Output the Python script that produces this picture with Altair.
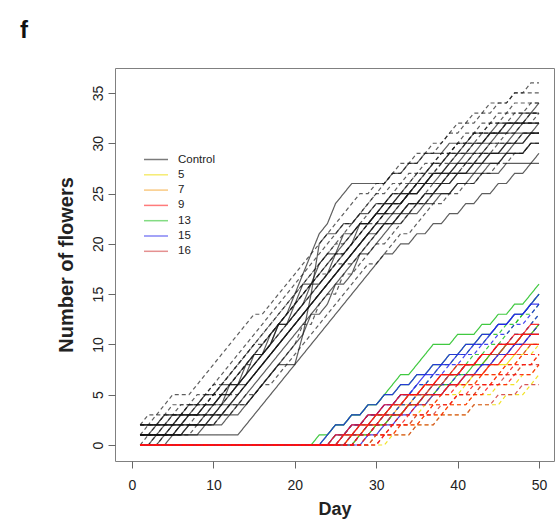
import altair as alt
import pandas as pd

# ---------------- data ----------------
days = list(range(1, 51))

groups = ["Control", "5", "7", "9", "13", "15", "16"]
group_colors = ["#111111", "#eedd00", "#f5a020", "#ff1010", "#1fc01f", "#2222ee", "#d03838"]

# Control plants: daily number of flowers (solid and dashed curves)
ctrl_01 = [1, 1, 1, 1, 1, 2, 2, 2, 3, 3,
           4, 5, 6, 7, 8, 9, 10, 12, 13, 15,
           17, 19, 21, 22, 24, 25, 26, 26, 26, 26,
           26, 27, 27, 28, 28, 29, 29, 29, 30, 30,
           30, 31, 31, 31, 32, 32, 32, 32, 33, 33]
ctrl_02 = [0, 0, 1, 1, 1, 1, 2, 2, 2, 2,
           3, 3, 4, 4, 5, 6, 7, 8, 8, 8,
           11, 15, 20, 21, 21, 22, 22, 23, 23, 24,
           24, 24, 25, 25, 26, 26, 27, 27, 27, 28,
           28, 28, 29, 29, 29, 30, 30, 30, 31, 31]
ctrl_03 = [1, 1, 1, 1, 1, 1, 1, 1, 1, 1,
           1, 1, 1, 2, 3, 4, 5, 6, 7, 8,
           9, 10, 11, 12, 13, 14, 15, 16, 17, 18,
           19, 19, 20, 20, 21, 21, 22, 22, 23, 23,
           24, 24, 25, 25, 26, 26, 27, 27, 28, 28]
ctrl_04 = [2, 2, 3, 4, 5, 5, 5, 6, 7, 8,
           9, 10, 11, 12, 13, 13, 14, 15, 16, 17,
           18, 19, 20, 21, 22, 23, 24, 25, 25, 26,
           26, 27, 27, 28, 28, 29, 29, 30, 31, 31,
           32, 32, 33, 33, 34, 34, 35, 35, 36, 36]
ctrl_05 = [1, 2, 2, 3, 3, 3, 4, 4, 5, 5,
           6, 7, 8, 9, 10, 11, 12, 13, 14, 15,
           16, 17, 18, 19, 20, 21, 22, 23, 24, 25,
           25, 26, 26, 27, 27, 28, 28, 29, 29, 30,
           30, 31, 31, 32, 32, 33, 33, 33, 34, 34]
ctrl_06 = [2, 2, 2, 2, 3, 3, 3, 3, 4, 4,
           5, 5, 6, 7, 8, 9, 10, 11, 12, 13,
           14, 16, 16, 17, 19, 19, 20, 22, 22, 23,
           23, 24, 24, 25, 25, 26, 27, 27, 28, 28,
           29, 29, 30, 30, 31, 31, 31, 32, 32, 32]
ctrl_07 = [0, 0, 1, 1, 1, 2, 2, 3, 3, 4,
           4, 5, 5, 6, 7, 8, 9, 10, 11, 12,
           13, 14, 15, 16, 17, 18, 18, 19, 20, 21,
           22, 22, 23, 24, 24, 25, 26, 26, 27, 27,
           28, 28, 29, 29, 30, 30, 30, 31, 31, 31]
ctrl_08 = [1, 1, 2, 2, 2, 3, 3, 3, 4, 4,
           5, 6, 6, 8, 9, 9, 11, 12, 12, 14,
           15, 16, 17, 18, 19, 20, 21, 22, 22, 23,
           24, 24, 25, 25, 26, 26, 27, 27, 28, 29,
           29, 30, 30, 31, 31, 32, 32, 33, 33, 34]
ctrl_09 = [0, 0, 0, 1, 1, 1, 1, 2, 2, 2,
           3, 3, 4, 4, 5, 6, 6, 7, 8, 9,
           10, 11, 12, 13, 14, 15, 16, 17, 18, 18,
           19, 20, 21, 21, 22, 23, 24, 24, 25, 25,
           26, 26, 27, 27, 28, 28, 29, 29, 30, 30]
ctrl_10 = [2, 2, 2, 3, 3, 3, 4, 4, 5, 5,
           6, 6, 7, 8, 9, 10, 11, 12, 13, 14,
           16, 16, 18, 19, 19, 21, 21, 22, 22, 23,
           24, 25, 25, 26, 26, 27, 28, 28, 29, 29,
           30, 30, 30, 31, 31, 31, 32, 32, 32, 32]
ctrl_11 = [1, 1, 1, 2, 2, 3, 4, 4, 4, 5,
           6, 7, 8, 9, 10, 10, 11, 12, 13, 14,
           15, 16, 17, 17, 18, 19, 20, 21, 22, 23,
           24, 25, 26, 26, 27, 27, 28, 29, 29, 30,
           30, 31, 31, 32, 32, 32, 33, 33, 33, 33]
ctrl_12 = [0, 0, 0, 0, 1, 1, 1, 1, 2, 2,
           2, 3, 3, 4, 5, 6, 7, 8, 9, 10,
           11, 13, 13, 14, 16, 16, 17, 19, 19, 20,
           21, 22, 22, 23, 23, 24, 24, 25, 25, 26,
           26, 27, 27, 28, 28, 29, 29, 29, 30, 30]
ctrl_13 = [2, 3, 3, 3, 4, 4, 4, 5, 5, 6,
           7, 8, 9, 10, 11, 12, 13, 14, 15, 16,
           17, 18, 19, 20, 21, 22, 22, 23, 24, 25,
           26, 27, 28, 28, 29, 29, 30, 30, 31, 32,
           32, 33, 33, 34, 34, 34, 35, 35, 35, 35]
ctrl_14 = [1, 1, 1, 1, 2, 2, 3, 3, 3, 3,
           4, 4, 5, 6, 7, 8, 9, 10, 11, 12,
           13, 14, 15, 16, 17, 18, 19, 20, 21, 21,
           22, 22, 23, 23, 24, 25, 25, 26, 26, 27,
           27, 27, 28, 28, 28, 29, 29, 29, 30, 30]
ctrl_15 = [0, 1, 1, 1, 2, 2, 2, 2, 3, 3,
           3, 4, 4, 5, 5, 6, 7, 8, 9, 10,
           12, 12, 14, 15, 15, 17, 17, 18, 19, 20,
           20, 21, 22, 23, 24, 24, 25, 26, 27, 27,
           28, 29, 29, 30, 30, 31, 31, 32, 32, 33]
ctrl_16 = [2, 2, 2, 2, 2, 3, 3, 4, 4, 4,
           5, 5, 6, 6, 7, 8, 9, 10, 11, 12,
           13, 14, 15, 16, 17, 18, 19, 20, 21, 22,
           22, 23, 23, 24, 24, 24, 25, 25, 25, 26,
           26, 26, 27, 27, 27, 28, 28, 28, 28, 29]
ctrl_17 = [1, 1, 2, 2, 3, 3, 3, 4, 4, 5,
           5, 6, 7, 8, 8, 9, 10, 11, 12, 13,
           14, 15, 16, 17, 18, 18, 19, 20, 21, 22,
           23, 23, 24, 25, 26, 27, 27, 28, 29, 30,
           31, 31, 32, 32, 33, 33, 34, 34, 34, 34]
ctrl_18 = [1, 1, 1, 2, 2, 2, 3, 3, 3, 4,
           4, 6, 6, 7, 9, 9, 10, 12, 12, 13,
           14, 15, 16, 17, 18, 19, 20, 21, 22, 23,
           23, 24, 24, 25, 25, 26, 26, 26, 27, 27,
           27, 28, 28, 29, 29, 30, 30, 31, 31, 31]
ctrl_19 = [1, 1, 1, 1, 2, 2, 3, 3, 4, 5,
           5, 6, 7, 8, 9, 10, 11, 12, 13, 14,
           15, 16, 17, 18, 19, 19, 20, 21, 22, 22,
           23, 24, 24, 25, 26, 26, 27, 28, 28, 29,
           29, 30, 30, 31, 31, 32, 32, 32, 33, 33]
ctrl_20 = [0, 0, 0, 1, 1, 1, 2, 2, 2, 3,
           3, 4, 4, 5, 6, 7, 8, 9, 10, 11,
           12, 13, 14, 15, 16, 17, 18, 19, 20, 21,
           22, 22, 23, 24, 24, 25, 25, 26, 26, 27,
           27, 28, 28, 29, 29, 29, 30, 30, 31, 31]
ctrl_21 = [2, 2, 2, 3, 3, 4, 4, 4, 5, 6,
           6, 7, 8, 9, 10, 11, 12, 13, 14, 15,
           16, 17, 18, 19, 20, 20, 21, 22, 23, 24,
           24, 25, 25, 26, 27, 27, 28, 28, 29, 29,
           30, 30, 31, 31, 31, 32, 32, 32, 32, 32]
ctrl_22 = [1, 1, 1, 1, 1, 2, 2, 2, 2, 3,
           3, 4, 5, 6, 7, 8, 9, 10, 11, 12,
           13, 14, 15, 16, 17, 18, 19, 20, 21, 22,
           23, 23, 24, 25, 25, 26, 26, 27, 27, 28,
           28, 29, 29, 30, 30, 30, 31, 31, 31, 32]

# Treated plants (groups 5, 7, 9, 13, 15, 16): no flowers until late
t5_a = [0] * 31 + [1, 1, 1, 2, 2, 2, 3, 3, 3, 3, 4, 4, 4, 4, 5, 5, 5, 6, 7]
t5_b = [0] * 28 + [1, 1, 2, 2, 3, 3, 3, 4, 4, 5, 5, 5, 6, 6, 7, 7, 7, 8, 8, 9, 9, 10]
t5_c = [0] * 26 + [1, 1, 2, 2, 2, 3, 3, 4, 4, 4, 5, 5, 6, 6, 6, 7, 7, 8, 8, 8, 9, 9, 10, 10]
t5_d = [0] * 29 + [1, 1, 1, 2, 2, 2, 3, 3, 3, 4, 4, 4, 5, 5, 5, 6, 6, 6, 7, 7, 8]
t7_a = [0] * 27 + [1, 1, 2, 2, 3, 3, 4, 4, 5, 5, 6, 6, 6, 7, 7, 8, 8, 9, 9, 10, 10, 11, 11]
t7_b = [0] * 29 + [1, 1, 2, 2, 2, 3, 3, 4, 4, 4, 5, 5, 5, 6, 6, 7, 7, 7, 8, 8, 9]
t7_c = [0] * 26 + [1, 1, 2, 2, 3, 3, 4, 4, 5, 5, 6, 6, 7, 7, 8, 8, 8, 9, 9, 10, 10, 11, 11, 12]
t7_d = [0] * 24 + [1, 1, 2, 2, 3, 3, 3, 4, 4, 5, 5, 6, 6, 6, 7, 7, 8, 8, 8, 9, 9, 10, 10, 11, 11, 12]
t13_a = [0] * 23 + [1, 2, 2, 3, 3, 4, 4, 5, 6, 7, 7, 8, 9, 10, 10, 10, 11, 11, 11, 12, 12, 13, 13, 14, 14, 15, 16]
t13_b = [0] * 25 + [1, 1, 2, 2, 3, 3, 4, 4, 5, 5, 6, 6, 7, 7, 8, 8, 9, 9, 10, 10, 11, 12, 13, 13, 14]
t13_c = [0] * 27 + [1, 1, 2, 2, 3, 3, 4, 4, 5, 5, 6, 6, 7, 7, 8, 8, 9, 9, 10, 10, 11, 11, 12]
t13_d = [0] * 24 + [1, 1, 2, 2, 3, 3, 3, 4, 5, 5, 6, 6, 7, 8, 8, 9, 9, 10, 10, 11, 11, 12, 12, 13, 14, 15]
t13_e = [0] * 22 + [1, 1, 2, 2, 3, 3, 4, 4, 5, 5, 6, 6, 7, 7, 8, 8, 9, 9, 10, 10, 11, 11, 12, 12, 13, 13, 14, 15]
t13_f = [0] * 26 + [1, 1, 2, 2, 3, 3, 4, 4, 5, 5, 6, 6, 7, 7, 8, 8, 9, 9, 10, 10, 11, 11, 12, 13]
t15_a = [0] * 24 + [1, 1, 2, 2, 3, 3, 4, 4, 5, 5, 6, 7, 7, 8, 8, 9, 9, 10, 10, 11, 12, 12, 13, 13, 14, 15]
t15_b = [0] * 26 + [1, 1, 2, 2, 3, 3, 4, 4, 5, 5, 6, 6, 7, 7, 8, 8, 9, 9, 10, 10, 11, 11, 12, 13]
t15_c = [0] * 28 + [1, 1, 2, 2, 3, 3, 4, 4, 5, 5, 6, 6, 7, 7, 8, 8, 9, 9, 10, 10, 11, 11]
t15_d = [0] * 25 + [1, 2, 2, 3, 3, 4, 4, 5, 5, 6, 6, 7, 7, 8, 8, 9, 9, 10, 10, 11, 11, 12, 12, 13, 14]
t15_e = [0] * 23 + [1, 2, 2, 3, 3, 4, 4, 5, 5, 6, 6, 7, 7, 8, 8, 9, 9, 10, 10, 11, 11, 12, 12, 13, 13, 14, 14]
t15_f = [0] * 27 + [1, 1, 2, 2, 3, 3, 4, 4, 5, 5, 6, 6, 7, 7, 7, 8, 8, 9, 9, 10, 10, 11, 12]
t16_a = [0] * 30 + [1, 1, 1, 1, 2, 2, 2, 3, 3, 3, 3, 4, 4, 4, 5, 5, 5, 6, 6, 6]
t16_b = [0] * 27 + [1, 1, 2, 2, 3, 3, 4, 4, 4, 5, 5, 6, 6, 6, 7, 7, 8, 8, 9, 9, 9, 10, 10]
t16_c = [0] * 25 + [1, 1, 2, 2, 3, 3, 4, 4, 5, 5, 5, 6, 6, 7, 7, 8, 8, 9, 9, 9, 10, 10, 11, 11, 11]
t16_d = [0] * 29 + [1, 1, 2, 2, 2, 3, 3, 3, 4, 4, 5, 5, 5, 6, 6, 6, 7, 7, 8, 8, 8]
t9_a = [0] * 26 + [1, 1, 2, 2, 3, 3, 3, 4, 4, 5, 5, 5, 6, 6, 7, 7, 7, 8, 8, 9, 9, 10, 10, 10]
t9_b = [0] * 28 + [1, 1, 1, 2, 2, 3, 3, 3, 4, 4, 4, 5, 5, 6, 6, 6, 7, 7, 8, 8, 8, 9]
t9_c = [0] * 25 + [1, 1, 2, 2, 3, 3, 4, 4, 5, 5, 6, 6, 7, 7, 7, 8, 8, 9, 9, 10, 10, 11, 11, 12, 12]
t9_d = [0] * 30 + [1, 1, 2, 2, 2, 3, 3, 3, 4, 4, 4, 5, 5, 6, 6, 6, 7, 7, 7, 8]
t9_e = [0] * 24 + [1, 1, 2, 2, 3, 3, 4, 4, 5, 5, 5, 6, 6, 7, 7, 8, 8, 8, 9, 9, 10, 10, 10, 11, 11, 11]
t9_f = [0] * 27 + [1, 1, 2, 2, 2, 3, 3, 4, 4, 4, 5, 5, 6, 6, 6, 7, 7, 7, 8, 8, 9, 9, 9]

# (group, line style, values) -- drawing order: control, then treatments
series = [
    ("Control", "solid", ctrl_01), ("Control", "solid", ctrl_02), ("Control", "solid", ctrl_03),
    ("Control", "dashed", ctrl_04), ("Control", "dashed", ctrl_05), ("Control", "solid", ctrl_06),
    ("Control", "dashed", ctrl_07), ("Control", "solid", ctrl_08), ("Control", "dashed", ctrl_09),
    ("Control", "solid", ctrl_10), ("Control", "dashed", ctrl_11), ("Control", "solid", ctrl_12),
    ("Control", "dashed", ctrl_13), ("Control", "solid", ctrl_14), ("Control", "dashed", ctrl_15),
    ("Control", "solid", ctrl_16), ("Control", "dashed", ctrl_17), ("Control", "solid", ctrl_18),
    ("Control", "dashed", ctrl_19), ("Control", "solid", ctrl_20), ("Control", "dashed", ctrl_21),
    ("Control", "solid", ctrl_22),
    ("5", "dashed", t5_a), ("5", "dashed", t5_b), ("5", "solid", t5_c), ("5", "dashed", t5_d),
    ("7", "solid", t7_a), ("7", "dashed", t7_b), ("7", "solid", t7_c), ("7", "dashed", t7_d),
    ("13", "solid", t13_a), ("13", "dashed", t13_b), ("13", "solid", t13_c), ("13", "dashed", t13_d),
    ("13", "solid", t13_e), ("13", "dashed", t13_f),
    ("15", "solid", t15_a), ("15", "dashed", t15_b), ("15", "solid", t15_c), ("15", "dashed", t15_d),
    ("15", "solid", t15_e), ("15", "dashed", t15_f),
    ("16", "dashed", t16_a), ("16", "dashed", t16_b), ("16", "solid", t16_c), ("16", "dashed", t16_d),
    ("9", "solid", t9_a), ("9", "dashed", t9_b), ("9", "solid", t9_c), ("9", "dashed", t9_d),
    ("9", "solid", t9_e), ("9", "dashed", t9_f),
]

rows = []
for i, (grp, style, vals) in enumerate(series):
    for d, v in zip(days, vals):
        rows.append({"day": d, "flowers": v, "series": f"s{i:02d}", "group": grp, "style": style})
df = pd.DataFrame(rows)

FONT = "Liberation Sans"

chart = (
    alt.Chart(df)
    .mark_line(strokeWidth=1.2)
    .encode(
        x=alt.X(
            "day:Q",
            scale=alt.Scale(domain=[-2.09, 51.84], nice=False, zero=False),
            axis=alt.Axis(
                values=[0, 10, 20, 30, 40, 50], title="Day", grid=False, domain=False,
                tickSize=7, tickColor="#666666", labelFontSize=14, labelColor="#222222",
                labelPadding=10, titleFontSize=18, titleFontWeight="bold",
                titleColor="#222222", titlePadding=8, labelFlush=False,
            ),
        ),
        y=alt.Y(
            "flowers:Q",
            scale=alt.Scale(domain=[-1.59, 37.48], nice=False, zero=False),
            axis=alt.Axis(
                values=[0, 5, 10, 15, 20, 25, 30, 35], title="Number of flowers", grid=False,
                domain=False, tickSize=7, tickColor="#666666", labelFontSize=14,
                labelColor="#222222", labelAngle=270, labelAlign="center",
                labelBaseline="bottom", labelPadding=3, titleFontSize=20,
                titleFontWeight="bold", titleColor="#222222", titlePadding=15, labelFlush=False,
            ),
        ),
        color=alt.Color(
            "group:N",
            scale=alt.Scale(domain=groups, range=group_colors),
            legend=alt.Legend(
                title=None, orient="none", legendX=32.5, legendY=83,
                symbolType="M-1.57,0H1.57", symbolSize=234, symbolStrokeWidth=1.5,
                symbolOpacity=0.55, labelFontSize=11.5, labelColor="#222222",
                labelOffset=13.5, rowPadding=1.3, padding=0,
            ),
        ),
        strokeDash=alt.StrokeDash(
            "style:N",
            scale=alt.Scale(domain=["solid", "dashed"], range=[[1, 0], [4, 3]]),
            legend=None,
        ),
        opacity=alt.condition(alt.datum.group == "Control", alt.value(0.68), alt.value(0.85)),
        detail="series:N",
    )
    .properties(
        width=439,
        height=393,
        autosize=alt.AutoSizeParams(type="none"),
        padding={"left": 115, "top": 68, "right": 2, "bottom": 63},
        title=alt.TitleParams(
            "f", anchor="start", frame="group", fontSize=24, fontWeight="bold",
            dx=-95, dy=27, offset=33, baseline="alphabetic", color="#111111",
        ),
    )
    .configure(font=FONT, background="white")
    .configure_view(stroke="#808080", strokeWidth=1)
)

chart.save("out.html", embed_options={"renderer": "svg", "actions": False})
